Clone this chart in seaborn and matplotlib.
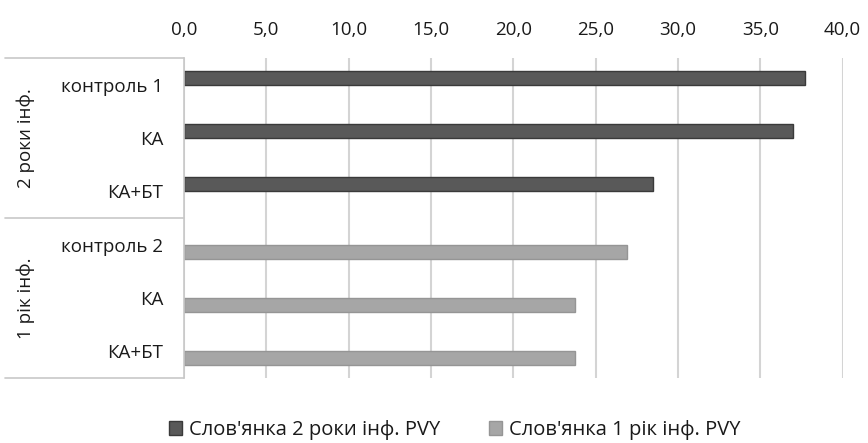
import matplotlib
matplotlib.use("Agg")
import matplotlib.pyplot as plt
import matplotlib.ticker as mticker
from matplotlib.lines import Line2D
from matplotlib.patches import Patch
import pandas as pd
import seaborn as sns

# Data
categories = ["контроль 1", "КА", "КА+БТ", "контроль 2", "КА", "КА+БТ"]
values = [37.7, 37.0, 28.5, 26.9, 23.75, 23.75]
series = ["Слов'янка 2 роки інф. PVY"] * 3 + ["Слов'янка 1 рік інф. PVY"] * 3
groups = ["2 роки інф.", "1 рік інф."]
x_ticks = [0, 5, 10, 15, 20, 25, 30, 35, 40]

series_names = ["Слов'янка 2 роки інф. PVY", "Слов'янка 1 рік інф. PVY"]
colors = {series_names[0]: "#595959", series_names[1]: "#a6a6a6"}
edges = {series_names[0]: "#3a3a3a", series_names[1]: "#959595"}

df = pd.DataFrame({
    "key": [f"{i}" for i in range(len(categories))],
    "value": values,
    "series": series,
})

sns.set_theme(style="white")
plt.rcParams["font.family"] = ["Open Sans", "DejaVu Sans"]
FS = 13.5
TXT = "#1a1a1a"

fig = plt.figure(figsize=(8.68, 4.43), dpi=100)
W, H = 868, 443
left, right, top, bottom = 184, 842.5, 58, 378
ax = fig.add_axes([left / W, 1 - bottom / H, (right - left) / W, (bottom - top) / H])

# clustered bars: each category keeps a slot for both series
sns.barplot(data=df, y="key", x="value", hue="series", hue_order=series_names,
            palette=colors, dodge=True, width=0.52, orient="h", ax=ax, legend=False,
            order=df["key"].tolist())

for bar_container, name in zip(ax.containers, series_names):
    for p in bar_container:
        p.set_edgecolor(edges[name])
        p.set_linewidth(1.0)

ax.set_xlim(0, 40)
ax.set_ylim(len(categories) - 0.5, -0.5)
ax.set_xticks(x_ticks)
ax.xaxis.set_major_formatter(mticker.FuncFormatter(lambda v, p: f"{v:.1f}".replace(".", ",")))
ax.xaxis.tick_top()
ax.tick_params(axis="x", length=0, pad=14, labelsize=FS, colors=TXT)
ax.tick_params(axis="y", length=0, pad=15, labelsize=FS, colors=TXT)
ax.set_yticks(range(len(categories)))
ax.set_yticklabels(categories)
ax.set_xlabel("")
ax.set_ylabel("")

ax.grid(axis="x", color="#d4d4d4", linewidth=1.5)
ax.set_axisbelow(True)
for side in ["top", "right", "bottom"]:
    ax.spines[side].set_visible(False)
ax.spines["left"].set_color("#c8c8c8")
ax.spines["left"].set_linewidth(1.2)

# Group separators in the label area
line_color = "#c8c8c8"
for yp in [top, 218, bottom]:
    fig.add_artist(Line2D([5 / W, left / W], [1 - yp / H, 1 - yp / H],
                          color=line_color, linewidth=1.2, transform=fig.transFigure))

fig.text(26 / W, 1 - 138 / H, groups[0], rotation=90, ha="center", va="center",
         fontsize=FS, color=TXT)
fig.text(26 / W, 1 - 298 / H, groups[1], rotation=90, ha="center", va="center",
         fontsize=FS, color=TXT)

handles = [Patch(facecolor=colors[n], edgecolor=edges[n], label=n) for n in series_names]
fig.legend(handles=handles, loc="center", bbox_to_anchor=(0.524, 1 - 430 / H),
           ncol=2, frameon=False, fontsize=14.5, handlelength=0.65, handleheight=0.65,
           handletextpad=0.35, columnspacing=2.4, labelcolor=TXT)

fig.savefig("out.png", dpi=100, facecolor="white")
